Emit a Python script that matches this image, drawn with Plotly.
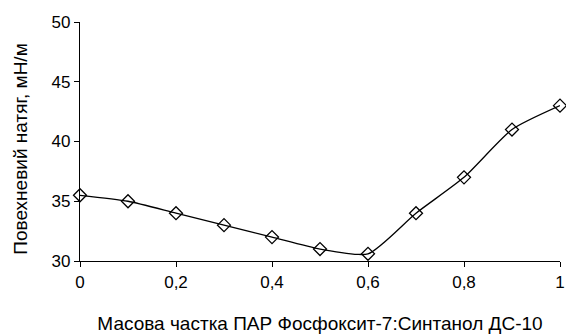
import plotly.graph_objects as go

mass_fraction = [0, 0.1, 0.2, 0.3, 0.4, 0.5, 0.6, 0.7, 0.8, 0.9, 1.0]
surface_tension = [35.5, 35.0, 34.0, 33.0, 32.0, 31.0, 30.6, 34.0, 37.0, 41.0, 43.0]

x_tickvals = [0, 0.2, 0.4, 0.6, 0.8, 1]
x_ticktext = ["0", "0,2", "0,4", "0,6", "0,8", "1"]
y_tickvals = [30, 35, 40, 45, 50]

x_title = "Масова частка ПАР Фосфоксит-7:Синтанол ДС-10"
y_title = "Повехневий натяг, мН/м"

fig = go.Figure()
fig.add_trace(go.Scatter(
    x=mass_fraction, y=surface_tension,
    mode="lines+markers",
    line=dict(color="black", width=1.3, shape="spline", smoothing=0.6),
    marker=dict(symbol="diamond-open", size=10, color="black", line=dict(width=1.3, color="black")),
    cliponaxis=False,
    showlegend=False,
))

fig.add_annotation(
    text=y_title, xref="paper", yref="paper", x=-0.123, y=0.47,
    xanchor="center", yanchor="middle", textangle=-90, showarrow=False,
    font=dict(size=19),
)

fig.update_layout(
    width=566, height=334,
    margin=dict(l=80, r=6, t=22, b=73),
    paper_bgcolor="white", plot_bgcolor="white",
    font=dict(family="Liberation Sans, Arial, sans-serif", color="black", size=17),
    xaxis=dict(
        range=[0, 1], tickvals=x_tickvals, ticktext=x_ticktext,
        showgrid=False, zeroline=False, showline=True, linecolor="black", linewidth=1.3,
        ticks="outside", ticklen=5, tickcolor="black", tickwidth=1.3,
        tickfont=dict(size=17), automargin=False,
        title=dict(text=x_title, font=dict(size=19), standoff=27),
    ),
    yaxis=dict(
        range=[30, 50], tickvals=y_tickvals, ticksuffix=" ",
        showgrid=False, zeroline=False, showline=True, linecolor="black", linewidth=1.3,
        ticks="outside", ticklen=5, tickcolor="black", tickwidth=1.3,
        tickfont=dict(size=17), automargin=False,
    ),
)

fig.write_html("out.html", config={"displayModeBar": False},
               post_script="document.body.style.margin='0px';")
